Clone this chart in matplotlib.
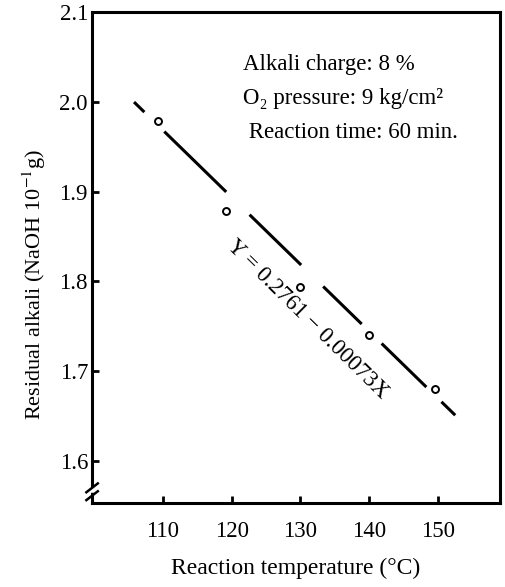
import matplotlib
matplotlib.use("Agg")
import matplotlib.pyplot as plt
import numpy as np

# ---- data ----
temperature = [109.3, 119.2, 129.9, 139.9, 149.6]
residual_alkali = [1.979, 1.878, 1.794, 1.740, 1.680]
fit_intercept = 2.790
fit_slope = -0.00747
fit_segments_x = [(105.8, 107.3), (110.2, 119.2), (122.6, 130.1),
                  (133.3, 138.9), (141.8, 148.3), (150.5, 152.5)]
x_ticks = [110, 120, 130, 140, 150]
y_ticks = [1.6, 1.7, 1.8, 1.9, 2.0, 2.1]
conditions = ["Alkali charge: 8 %", "O\u2082 pressure: 9 kg/cm\u00b2", " Reaction time: 60 min."]
equation = "Y = 0.2761 \u2212 0.00073X"

plt.rcParams['font.family'] = ['Liberation Serif', 'DejaVu Serif']
plt.rcParams['mathtext.fontset'] = 'stix'

fig = plt.figure(figsize=(5.06, 5.87), dpi=100)
ax = fig.add_axes([0.182, 0.143, 0.806, 0.8366])

ax.set_xlim(99.7, 159.0)
ax.set_ylim(1.553, 2.1)

for x0, x1 in fit_segments_x:
    xs = np.array([x0, x1])
    ax.plot(xs, fit_intercept + fit_slope * xs, color='black', lw=2.2,
            solid_capstyle='butt')

ax.plot(temperature, residual_alkali, 'o', ms=5, mfc='white', mec='black', mew=1.4)

ax.set_xticks(x_ticks)
ax.set_yticks(y_ticks)
ax.set_yticklabels([f"{v:.1f}" for v in y_ticks])
ax.tick_params(direction='in', length=5, width=2, labelsize=16.5)
ax.tick_params(axis='x', pad=13)
ax.tick_params(axis='y', pad=3)
for s in ax.spines.values():
    s.set_linewidth(2.2)

ax.set_xlabel("Reaction temperature (\u00b0C)", fontsize=17, labelpad=11)
ax.set_ylabel("Residual alkali (NaOH 10$^{-1}$g)", fontsize=16, labelpad=8)
ax.yaxis.label.set_y(0.446)

for i, line in enumerate(conditions):
    ax.text(0.369, 0.894 - i * 0.0695, line, transform=ax.transAxes,
            fontsize=16.5, ha='left', va='center')

ax.text(131.0, 1.758, equation, rotation=-44.5, rotation_mode='anchor',
        ha='center', va='center', fontsize=16.5)

# axis break mark on the left spine
tr = ax.transAxes
ax.plot([-0.012, 0.012], [0.0265, 0.0265], color='white', lw=4,
        transform=tr, clip_on=False, zorder=5)
for dy in (0.018, 0.034):
    ax.plot([-0.014, 0.014], [dy - 0.012, dy + 0.006], color='black', lw=1.8,
            transform=tr, clip_on=False, zorder=6)

fig.savefig("out.png", dpi=100)
